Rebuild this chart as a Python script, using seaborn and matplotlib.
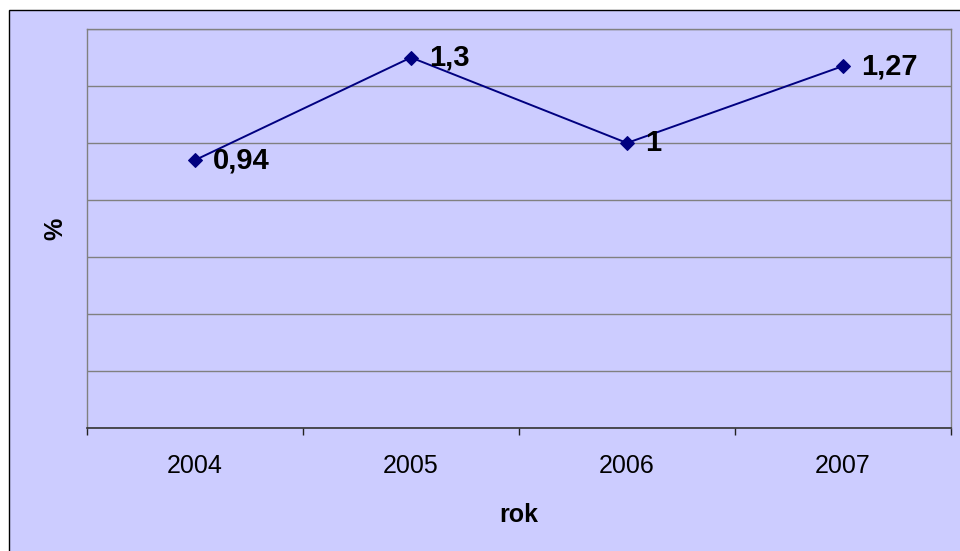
import matplotlib
matplotlib.use("Agg")
import matplotlib.pyplot as plt
from matplotlib.patches import Rectangle
import seaborn as sns
import pandas as pd

years = ["2004", "2005", "2006", "2007"]
values = [0.94, 1.3, 1.0, 1.27]
value_labels = ["0,94", "1,3", "1", "1,27"]

sns.set_theme(style="white")
plt.rcParams["font.family"] = ["Liberation Sans", "DejaVu Sans"]

W, H = 960, 551
fig = plt.figure(figsize=(W / 100, H / 100), dpi=100)
fig.patch.set_facecolor("white")

bg = "#CCCCFF"
# chart frame behind everything
frame = Rectangle((9 / W, -0.05), 1.0, 1 - 10 / H + 0.05,
                  transform=fig.transFigure, facecolor=bg,
                  edgecolor="#000000", linewidth=1.0, zorder=-10)
fig.patches.append(frame)

ax = fig.add_axes([87 / W, 1 - 428 / H, (951 - 87) / W, (428 - 29) / H])
ax.set_zorder(1)
ax.set_facecolor(bg)

df = pd.DataFrame({"rok": years, "val": values})
sns.lineplot(data=df, x="rok", y="val", ax=ax, color="#000080",
             linewidth=1.4, marker="D", markersize=7.5,
             markeredgecolor="#000080", markerfacecolor="#000080", zorder=3)

ax.set_xlim(-0.5, len(years) - 0.5)
ax.set_ylim(0, 1.4)
ax.set_yticks([0.2 * i for i in range(8)])
ax.yaxis.grid(True, color="#808080", linewidth=1.0)
ax.set_axisbelow(True)
ax.tick_params(axis="y", left=False, labelleft=False)

# category boundaries carry the ticks, labels sit in the centres
ax.set_xticks([i - 0.5 for i in range(len(years) + 1)])
ax.set_xticklabels([])
ax.set_xticks(range(len(years)), minor=True)
ax.set_xticklabels(years, minor=True, fontsize=18, color="black")
ax.tick_params(axis="x", which="major", direction="out", length=5,
               width=1, color="#222222", bottom=True)
ax.tick_params(axis="x", which="minor", length=0, pad=19)

for side in ("left", "right", "top"):
    ax.spines[side].set_color("#808080")
    ax.spines[side].set_linewidth(1.0)
ax.spines["bottom"].set_color("#333333")
ax.spines["bottom"].set_linewidth(1.2)

ax.set_xlabel("")
ax.set_ylabel("")

for i, (v, lab) in enumerate(zip(values, value_labels)):
    ax.annotate(lab, (i, v), xytext=(13, 0), textcoords="offset points",
                ha="left", va="center", fontsize=21, fontweight="bold",
                color="black")

fig.text(519 / W, 1 - 515 / H, "rok", ha="center", va="center",
         fontsize=18, fontweight="bold", color="black")
fig.text(55 / W, 1 - 229 / H, "%", ha="center", va="center",
         fontsize=18, fontweight="bold", rotation=90, color="black")

fig.savefig("out.png", dpi=100)
